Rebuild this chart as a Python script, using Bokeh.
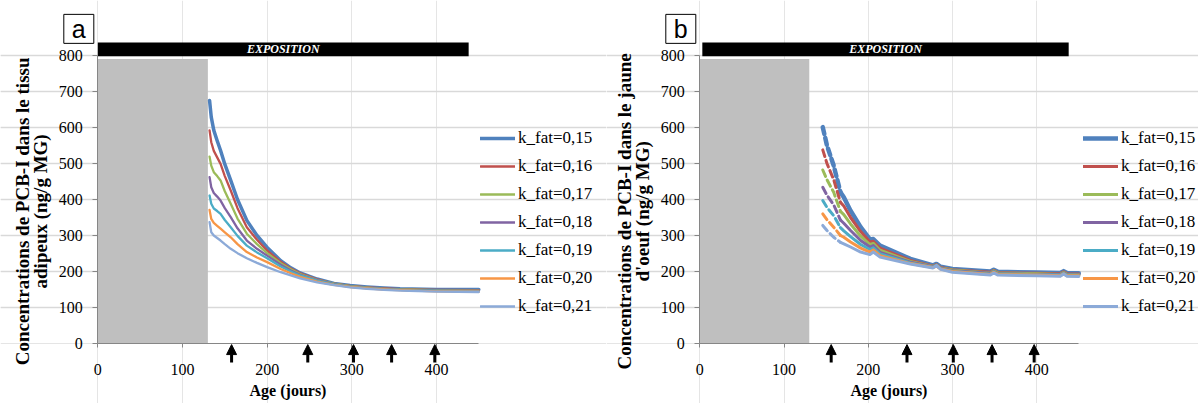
from math import pi
from bokeh.plotting import figure
from bokeh.models import (Range1d, LinearAxis, FixedTicker, Grid, Legend, LegendItem,
                          Arrow, NormalHead, ColumnDataSource)
from bokeh.core.properties import value
from bokeh.layouts import row
from bokeh.embed import file_html
from bokeh.resources import INLINE

# ---------------- data ----------------
LABELS = ["k_fat=0,15", "k_fat=0,16", "k_fat=0,17", "k_fat=0,18",
          "k_fat=0,19", "k_fat=0,20", "k_fat=0,21"]
COLORS = ["#4F81BD", "#C0504D", "#9BBB59", "#8064A2", "#4BACC6", "#F79646", "#8CAAD8"]

X_TICKS = [0, 100, 200, 300, 400]
Y_TICKS = [0, 100, 200, 300, 400, 500, 600, 700, 800]
X_MAX = 450
Y_MAX = 800

GRAY_START, GRAY_END, GRAY_TOP = 0, 130, 790
EXPO_END = 438
EXPO_START_A, EXPO_START_B = 0, 3

ARROWS_A = [158, 248, 302, 347, 398]
ARROWS_B = [156, 246, 301, 347, 397]

# panel a : adipose tissue
AGES_A = [132, 134, 137, 141, 145, 150, 157, 165, 176, 188, 200, 216, 228, 239,
          259, 279, 298, 318, 338, 357, 400, 450]
A_K15 = [675, 629, 592, 563, 536, 498, 453, 400, 342, 300, 267, 230, 210, 196,
         179, 167, 161, 157, 154, 152, 150, 150]
A_K16 = [592, 559, 535, 517, 499, 465, 425, 376, 323, 288, 258, 227, 208, 195,
         178, 166, 160, 156, 153, 151, 149, 148]
A_K17 = [519, 494, 476, 465, 453, 423, 388, 347, 305, 276, 251, 223, 206, 193,
         177, 166, 159, 155, 152, 150, 148, 147]
A_K18 = [462, 434, 418, 408, 397, 376, 351, 320, 286, 263, 244, 219, 203, 191,
         176, 165, 158, 154, 151, 149, 147, 146]
A_K19 = [411, 388, 375, 368, 360, 343, 323, 299, 272, 253, 237, 214, 200, 189,
         175, 164, 158, 154, 151, 149, 146, 145]
A_K20 = [371, 346, 335, 327, 319, 309, 295, 276, 254, 239, 226, 207, 195, 185,
         172, 163, 157, 153, 150, 148, 145, 144]
A_K21 = [337, 309, 300, 293, 286, 276, 263, 251, 237, 224, 212, 198, 189, 181,
         170, 162, 156, 152, 149, 147, 144, 143]

# panel b : egg yolk
AGES_B = [146, 151, 159, 167, 171, 179, 191, 202, 206, 214, 250, 277, 281, 286,
          300, 345, 349, 354, 400, 428, 432, 436, 450]
B_DASH_END = 167
B_K15 = [601, 550, 494, 420, 406, 369, 323, 289, 290, 272, 235, 217, 221, 213,
         207, 200, 205, 199, 197, 196, 201, 196, 195]
B_K16 = [538, 500, 455, 392, 382, 350, 311, 282, 284, 265, 231, 215, 219, 211,
         205, 198, 203, 197, 195, 194, 199, 194, 193]
B_K17 = [482, 455, 420, 367, 358, 332, 298, 275, 278, 259, 228, 214, 218, 210,
         204, 196, 202, 196, 194, 192, 198, 192, 192]
B_K18 = [434, 412, 385, 343, 334, 314, 286, 268, 272, 253, 226, 213, 217, 209,
         202, 195, 200, 194, 192, 191, 196, 191, 190]
B_K19 = [397, 378, 355, 322, 313, 297, 275, 261, 266, 249, 224, 212, 216, 208,
         201, 193, 199, 193, 191, 190, 195, 190, 189]
B_K20 = [360, 344, 323, 300, 295, 282, 265, 254, 260, 244, 222, 211, 215, 207,
         200, 192, 198, 192, 190, 188, 194, 188, 188]
B_K21 = [328, 314, 295, 281, 277, 268, 254, 247, 254, 240, 221, 210, 217, 206,
         198, 190, 196, 190, 188, 187, 193, 187, 186]

YLABEL_A = ["Concentrations de PCB-I dans le tissu", "adipeux (ng/g MG)"]
YLABEL_B = ["Concentrations de PCB-I dans le jaune", "d'oeuf (ng/g MG)"]

SERIF = "Liberation Serif"
AXIS_GRAY = "#868686"

H = 403
PX_PER_Y = 0.36          # pixels per concentration unit
Y0_FROM_TOP = 343        # canvas pixel row of y = 0


def make_panel(letter, ylabel, ages, series, widths, dash_end, width, x0_px, px_per_x,
               legend_px, expo_start, arrows):
    x_lo = -x0_px / px_per_x
    x_hi = (width - x0_px) / px_per_x
    y_hi = Y0_FROM_TOP / PX_PER_Y
    y_lo = -(H - Y0_FROM_TOP) / PX_PER_Y
    p = figure(width=width, height=H,
               x_range=Range1d(x_lo, x_hi), y_range=Range1d(y_lo, y_hi),
               x_axis_location=None, y_axis_location=None,
               toolbar_location=None, output_backend="svg", min_border=0)
    p.outline_line_color = None
    p.background_fill_color = "white"

    p.add_layout(Grid(dimension=1, ticker=FixedTicker(ticks=Y_TICKS[1:]),
                      bounds=(0, X_MAX),
                      grid_line_color="#d9d9d9", grid_line_width=1.3))

    # y axis at x = 0
    yax = LinearAxis(ticker=FixedTicker(ticks=Y_TICKS), bounds=(0, Y_MAX), fixed_location=0)
    yax.axis_line_color = AXIS_GRAY
    yax.major_tick_line_color = AXIS_GRAY
    yax.major_tick_out = 5
    yax.major_tick_in = 0
    yax.minor_tick_line_color = None
    yax.major_label_text_font = SERIF
    yax.major_label_text_font_size = "16px"
    yax.major_label_text_color = "black"
    yax.major_label_standoff = 10
    p.add_layout(yax, "left")

    # x axis at y = 0
    xax = LinearAxis(ticker=FixedTicker(ticks=X_TICKS), bounds=(0, X_MAX), fixed_location=0)
    xax.axis_line_color = AXIS_GRAY
    xax.major_tick_line_color = AXIS_GRAY
    xax.major_tick_out = 4
    xax.major_tick_in = 0
    xax.minor_tick_line_color = None
    xax.major_label_text_font = SERIF
    xax.major_label_text_font_size = "16px"
    xax.major_label_text_color = "black"
    xax.major_label_standoff = 16
    xax.axis_label = "Age (jours)"
    xax.axis_label_text_font = SERIF
    xax.axis_label_text_font_style = "bold"
    xax.axis_label_text_font_size = "16px"
    xax.axis_label_text_color = "black"
    xax.axis_label_standoff = 4
    p.add_layout(xax, "below")

    # y axis title (two centred lines, rotated)
    px_x = 1.0 / px_per_x
    p.text(x=[-75 * px_x, -57 * px_x], y=[367, 367], text=ylabel, angle=pi / 2,
           text_font=value(SERIF), text_font_style="bold", text_font_size="19px",
           text_color="black", text_align="center", text_baseline="middle")

    # panel letter in a box
    lx = -19 * px_x
    ly = 874
    p.rect(x=[lx], y=[ly], width=30 * px_x, height=29 / PX_PER_Y,
           fill_color="white", line_color="black", line_width=1)
    p.text(x=[lx], y=[ly], text=[letter], text_font=value("Liberation Sans"),
           text_font_size="25px", text_color="black", text_align="center",
           text_baseline="middle")

    # shaded period and exposure bar
    p.quad(left=[GRAY_START], right=[GRAY_END], bottom=[0], top=[GRAY_TOP],
           fill_color="#bfbfbf", line_color=None)
    p.quad(left=[expo_start], right=[EXPO_END], bottom=[798], top=[836],
           fill_color="black", line_color=None)
    p.text(x=[(expo_start + EXPO_END) / 2], y=[817], text=["EXPOSITION"],
           text_font=value(SERIF), text_font_style="bold italic",
           text_font_size="12px", text_color="white",
           text_align="center", text_baseline="middle")

    items = []
    for lab, col, vals, lw in zip(LABELS, COLORS, series, widths):
        if dash_end is not None:
            i = ages.index(dash_end)
            p.line(ages[:i + 1], vals[:i + 1], line_color=col, line_width=lw,
                   line_dash="7 4", line_cap="round", line_join="round")
            r = p.line(ages[i:], vals[i:], line_color=col, line_width=lw,
                       line_cap="round", line_join="round")
        else:
            r = p.line(ages, vals, line_color=col, line_width=lw,
                       line_cap="round", line_join="round")
        items.append(LegendItem(label=lab, renderers=[r]))

    # arrows under the axis
    src = ColumnDataSource(dict(x0=arrows, y0=[-53] * len(arrows),
                                x1=arrows, y1=[-3] * len(arrows)))
    p.add_layout(Arrow(end=NormalHead(size=10, fill_color="black", line_color="black",
                                      line_width=1),
                       source=src, x_start="x0", y_start="y0", x_end="x1", y_end="y1",
                       line_width=3, line_color="black"))

    legend = Legend(items=items, location=legend_px)
    legend.label_text_font = SERIF
    legend.label_text_font_size = "17px"
    legend.label_text_color = "black"
    legend.glyph_width = 35
    legend.glyph_height = 20
    legend.label_height = 20
    legend.spacing = 8
    legend.padding = 0
    legend.margin = 0
    legend.label_standoff = 3
    legend.border_line_color = None
    legend.background_fill_alpha = 0
    p.add_layout(legend, "center")
    return p


pa = make_panel("a", YLABEL_A, AGES_A,
                [A_K15, A_K16, A_K17, A_K18, A_K19, A_K20, A_K21],
                [3.5, 2.3, 2.3, 2.3, 2.3, 2.3, 2.3], None,
                606, 97.3, 0.8467, (480, 87), EXPO_START_A, ARROWS_A)
pb = make_panel("b", YLABEL_B, AGES_B,
                [B_K15, B_K16, B_K17, B_K18, B_K19, B_K20, B_K21],
                [4.5, 3, 3, 3, 3, 3, 3], B_DASH_END,
                592, 93.3, 0.8422, (477, 87), EXPO_START_B, ARROWS_B)

layout = row(pa, pb)
open("out.html", "w").write(file_html(layout, INLINE))
